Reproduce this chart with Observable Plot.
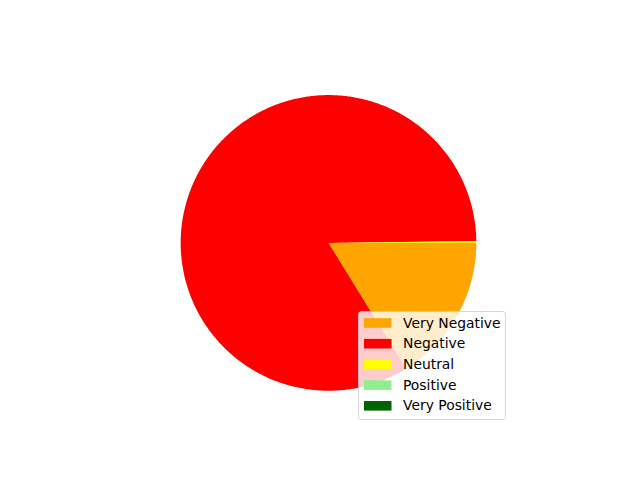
<!DOCTYPE html>
<html><head><meta charset="utf-8">
<script src="https://cdn.jsdelivr.net/npm/d3@7"></script>
<script src="https://cdn.jsdelivr.net/npm/@observablehq/plot@0.6"></script>
<style>
body{margin:0;background:#fff;}
#wrap{position:relative;width:640px;height:480px;}
#wrap svg{display:block;}
</style>
</head><body><div id="wrap"></div>
<script>
// Data
const categories = ["Very Negative", "Negative", "Neutral", "Positive", "Very Positive"];
const counts = [81, 418, 1, 0, 0];
const colors = ["orange", "red", "yellow", "lightgreen", "darkgreen"];

// Build wedge polygons (clockwise from 3 o'clock, like matplotlib counterclock=False)
const total = d3.sum(counts);
const wedges = [];
let acc = 0;
categories.forEach((c, i) => {
  const f0 = acc / total; acc += counts[i]; const f1 = acc / total;
  if (counts[i] <= 0) return;
  const n = Math.max(2, Math.ceil((f1 - f0) * 720));
  wedges.push({category: c, x: 0, y: 0});
  for (let k = 0; k <= n; k++) {
    const t = -2 * Math.PI * (f0 + (f1 - f0) * k / n);
    wedges.push({category: c, x: Math.cos(t), y: Math.sin(t)});
  }
  wedges.push({category: c, x: 0, y: 0});
});

const chart = Plot.plot({
  width: 640, height: 480,
  marginLeft: 80, marginRight: 64, marginTop: 57.6, marginBottom: 52.8,
  x: {domain: [-1.6775, 1.6775], axis: null},
  y: {domain: [-1.25, 1.25], axis: null},
  color: {type: "ordinal", domain: categories, range: colors},
  style: {background: "white"},
  marks: [
    Plot.line(wedges, {x: "x", y: "y", z: "category", fill: "category", stroke: "none", curve: "linear"})
  ]
});
const wrap = document.getElementById("wrap");
wrap.appendChild(chart);

// Legend (matplotlib-style, overlapping the pie)
const cs = chart.scale && chart.scale("color");
const colorOf = (c, i) => (cs && cs.apply) ? cs.apply(c) : colors[i];
const leg = d3.select(wrap).append("svg")
  .attr("width", 640).attr("height", 480)
  .style("position", "absolute").style("left", "0px").style("top", "0px");
leg.append("rect")
  .attr("x", 358.5).attr("y", 311.5).attr("width", 147).attr("height", 108).attr("rx", 3)
  .attr("fill", "white").attr("fill-opacity", 0.8)
  .attr("stroke", "#cccccc").attr("stroke-opacity", 0.8);
categories.forEach((c, i) => {
  const cy = 323 + i * 20.7;
  leg.append("rect").attr("x", 364).attr("y", cy - 4.8).attr("width", 27.5).attr("height", 9.6)
    .attr("fill", colorOf(c, i));
  leg.append("text").attr("x", 403).attr("y", cy + 4.5)
    .attr("font-family", "DejaVu Sans").attr("font-size", 13.89).attr("fill", "black")
    .text(c);
});
</script>
</body></html>
